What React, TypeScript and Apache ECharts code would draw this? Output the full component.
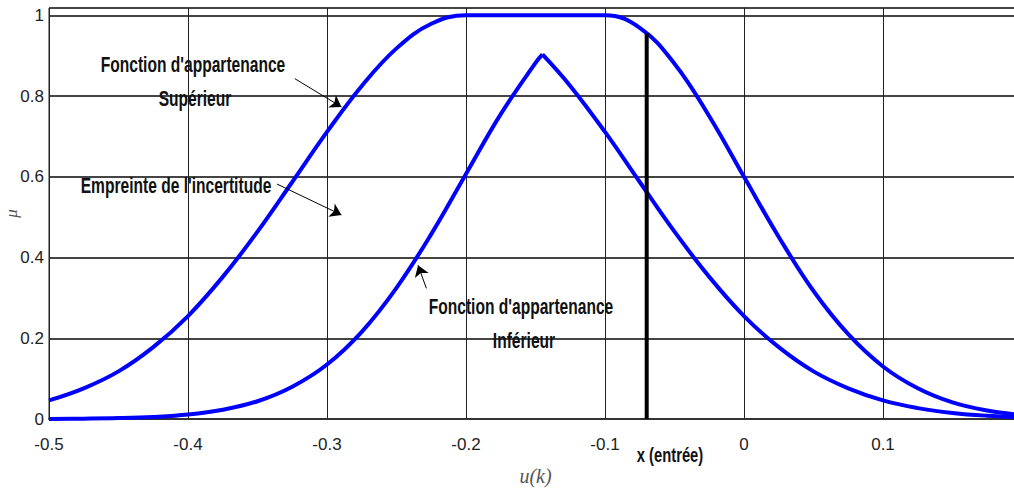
import React, { useEffect, useRef } from "react";
import * as echarts from "echarts";

// Upper membership function (x, mu)
const upperX = [-0.5, -0.475, -0.45, -0.425, -0.4, -0.375, -0.35, -0.325, -0.3, -0.275, -0.25, -0.225, -0.2, -0.15, -0.1, -0.075, -0.05, -0.025, 0, 0.025, 0.05, 0.075, 0.1, 0.125, 0.15, 0.175, 0.2];
const upperY = [0.046, 0.076, 0.118, 0.178, 0.255, 0.352, 0.464, 0.587, 0.711, 0.825, 0.918, 0.979, 1, 1, 1, 0.969, 0.88, 0.75, 0.6, 0.451, 0.317, 0.21, 0.13, 0.076, 0.041, 0.021, 0.01];

// Lower membership function, left branch up to the apex
const lowerLeftX = [-0.5, -0.475, -0.45, -0.425, -0.4, -0.375, -0.35, -0.325, -0.3, -0.275, -0.25, -0.225, -0.2, -0.175, -0.15, -0.145];
const lowerLeftY = [0.0003, 0.0009, 0.0022, 0.0051, 0.011, 0.023, 0.044, 0.08, 0.135, 0.216, 0.325, 0.458, 0.607, 0.755, 0.882, 0.903];

// Lower membership function, right branch from the apex
const lowerRightX = [-0.145, -0.125, -0.1, -0.075, -0.05, -0.025, 0, 0.025, 0.05, 0.075, 0.1, 0.125, 0.15, 0.175, 0.2];
const lowerRightY = [0.903, 0.825, 0.711, 0.587, 0.464, 0.352, 0.255, 0.178, 0.118, 0.076, 0.046, 0.027, 0.015, 0.008, 0.004];

// Input value x (entrée)
const inputX = -0.07;
const inputTop = 0.955;

// Annotation arrows [start, end] in data coordinates
const arrowUpper = [[-0.3232, 0.843], [-0.2896, 0.773]];
const arrowFootprint = [[-0.336, 0.582], [-0.2896, 0.5055]];
const arrowLower = [[-0.2285, 0.3236], [-0.2345, 0.381]];

const xTicks = [-0.5, -0.4, -0.3, -0.2, -0.1, 0, 0.1];
const yTicks = [0, 0.2, 0.4, 0.6, 0.8, 1];

const zip = (xs: number[], ys: number[]) => xs.map((x, i) => [x, ys[i]]);

const SANS = "'Liberation Sans', Arial, Helvetica, sans-serif";

export default function App() {
  const ref = useRef<HTMLDivElement>(null);
  useEffect(() => {
    if (!ref.current) return;
    const chart = echarts.init(ref.current, undefined, { renderer: "svg" });
    const isTick = (v: number, ticks: number[]) => ticks.some((t) => Math.abs(t - v) < 1e-6);
    const fmt = (v: number) => {
      const r = Math.round(v * 10) / 10;
      return r === 0 ? "0" : String(r);
    };
    const blue = { color: "#0000ff", width: 4 };
    const annot = (text: string, x: number, y: number, size = 19) => ({
      type: "text",
      x,
      y,
      scaleX: 0.82,
      scaleY: 1.15,
      style: {
        text,
        x: 0,
        y: 0,
        align: "center",
        verticalAlign: "middle",
        fontFamily: SANS,
        fontWeight: "bold",
        fontSize: size,
        fill: "#111",
      },
      z: 100,
    });
    chart.setOption({
      animation: false,
      backgroundColor: "#fff",
      grid: {
        left: 49,
        top: 8,
        bottom: 70,
        right: -8,
        outerBoundsMode: "none",
        containLabel: false,
        show: true,
        borderColor: "#222",
        borderWidth: 1,
      },
      xAxis: {
        type: "value",
        min: -0.5,
        max: 0.2,
        interval: 0.1,
        name: "u(k)",
        nameLocation: "middle",
        nameGap: 47,
        nameTextStyle: {
          fontFamily: "'Liberation Serif', 'DejaVu Serif', serif",
          fontStyle: "italic",
          fontSize: 20,
          color: "#555",
        },
        axisLine: { show: true, onZero: false, lineStyle: { color: "#333", width: 2 } },
        axisTick: { show: false },
        axisLabel: {
          showMaxLabel: false,
          margin: 17,
          fontFamily: SANS,
          fontSize: 17,
          color: "#222",
          formatter: (v: number) => (isTick(v, xTicks) ? fmt(v) : ""),
        },
        splitLine: { show: true, lineStyle: { color: "#222", width: 1 } },
      },
      yAxis: {
        type: "value",
        min: 0,
        max: 1.018,
        interval: 0.2,
        name: "μ",
        nameLocation: "middle",
        nameGap: 29,
        nameMoveOverlap: false,
        nameRotate: 90,
        nameTextStyle: {
          fontFamily: "'Liberation Serif', 'DejaVu Serif', serif",
          fontStyle: "italic",
          fontSize: 17,
          color: "#555",
        },
        axisLine: { show: true, lineStyle: { color: "#222", width: 1 } },
        axisTick: { show: false },
        axisLabel: {
          showMaxLabel: false,
          margin: 5,
          fontFamily: SANS,
          fontSize: 17,
          color: "#222",
          formatter: (v: number) => (isTick(v, yTicks) ? fmt(v) : ""),
        },
        splitLine: { show: true, lineStyle: { color: "#454545", width: 2 } },
      },
      series: [
        {
          type: "line",
          name: "upper",
          data: zip(upperX, upperY),
          smooth: 0.4,
          symbol: "none",
          lineStyle: blue,
          z: 5,
        },
        {
          type: "line",
          name: "lowerLeft",
          data: zip(lowerLeftX, lowerLeftY),
          smooth: 0.4,
          symbol: "none",
          lineStyle: blue,
          z: 5,
        },
        {
          type: "line",
          name: "lowerRight",
          data: zip(lowerRightX, lowerRightY),
          smooth: 0.4,
          symbol: "none",
          lineStyle: blue,
          z: 5,
        },
        {
          type: "line",
          name: "input",
          data: [[inputX, 0], [inputX, inputTop]],
          symbol: "none",
          lineStyle: { color: "#000", width: 4 },
          z: 6,
        },
        {
          type: "lines",
          coordinateSystem: "cartesian2d",
          symbol: ["none", "arrow"],
          symbolSize: [0, 11],
          lineStyle: { color: "#000", width: 1, opacity: 1 },
          data: [{ coords: arrowUpper }, { coords: arrowFootprint }, { coords: arrowLower }],
          z: 7,
        },
      ],
      graphic: [
        annot("Fonction d'appartenance", 193, 65),
        annot("Supérieur", 195, 99),
        annot("Empreinte de l'incertitude", 176, 186),
        annot("Fonction d'appartenance", 521, 307),
        annot("Inférieur", 524, 341),
        annot("x (entrée)", 670, 455, 18),
      ],
    });
    return () => chart.dispose();
  }, []);
  return <div ref={ref} style={{ width: 1014, height: 489, position: "absolute", left: 0, top: 0 }} />;
}
